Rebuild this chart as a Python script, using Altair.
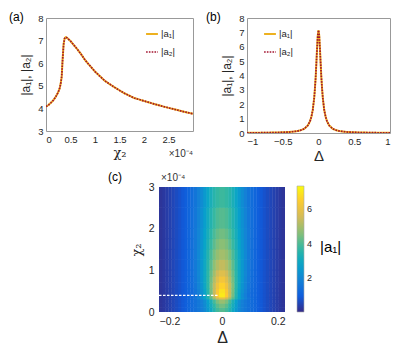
import altair as alt
import pandas as pd

F = "Liberation Sans"
YEL = "#EDB120"
RED = "#A2142F"
SER = ["|a₁|", "|a₂|"]

# ---------- panel (a): |a| vs chi2 (units of 1e-4)
chi2_a = [0, 0.05, 0.1, 0.15, 0.2, 0.25, 0.28, 0.3, 0.32, 0.34, 0.36, 0.38, 0.4, 0.42, 0.45,
          0.5, 0.6, 0.7, 0.8, 0.9, 1.0, 1.2, 1.4, 1.6, 1.8, 2.0, 2.2, 2.4, 2.6, 2.8, 3.0]
a1_a = [4.08, 4.15, 4.25, 4.36, 4.52, 4.72, 4.9, 5.1, 5.4, 6.2, 6.85, 7.1, 7.15, 7.14, 7.08,
        6.98, 6.72, 6.45, 6.13, 5.88, 5.63, 5.22, 4.93, 4.67, 4.46, 4.33, 4.2, 4.08, 3.97, 3.86, 3.76]
a2_a = list(a1_a)

# ---------- panel (b): |a| vs Delta
delta_b = [-1, -0.8, -0.6, -0.5, -0.4, -0.3, -0.25, -0.2, -0.15, -0.12, -0.1, -0.08, -0.06, -0.05,
           -0.04, -0.03, -0.02, -0.01, 0, 0.01, 0.02, 0.03, 0.04, 0.05, 0.06, 0.08, 0.1, 0.12,
           0.15, 0.2, 0.25, 0.3, 0.4, 0.5, 0.6, 0.8, 1]
a1_b = [0.01, 0.02, 0.03, 0.05, 0.07, 0.13, 0.19, 0.29, 0.52, 0.8, 1.12, 1.6, 2.45, 3.1,
        3.85, 4.85, 5.9, 6.8, 7.15, 6.8, 5.9, 4.85, 3.85, 3.1, 2.45, 1.6, 1.12, 0.8,
        0.52, 0.29, 0.19, 0.13, 0.07, 0.05, 0.03, 0.02, 0.01]
a2_b = list(a1_b)

# ---------- panel (c): heatmap |a1|(Delta, chi2)
d_half = [0.005, 0.015, 0.025, 0.035, 0.045, 0.055, 0.065, 0.075, 0.085, 0.095,
          0.105, 0.115, 0.125, 0.135, 0.145, 0.155, 0.165, 0.175, 0.185, 0.195]
row_edges = [0, 0.1, 0.2, 0.3, 0.35, 0.45, 0.55, 0.7, 0.85, 1.0, 1.25, 1.5, 1.75, 2.0, 2.5, 3.0]
# inner part of each row (|Delta| = 0.005 ... 0.095)
grid_inner = [
    [4.1, 3.9, 3.5, 3.0, 2.5, 2.1, 1.82, 1.62, 1.47, 1.34],
    [4.4, 4.15, 3.7, 3.15, 2.6, 2.15, 1.84, 1.63, 1.48, 1.35],
    [4.8, 4.5, 3.95, 3.3, 2.7, 2.2, 1.86, 1.64, 1.48, 1.35],
    [5.9, 5.5, 4.85, 4.1, 3.4, 2.8, 2.3, 1.92, 1.62, 1.4],
    [7.0, 6.4, 5.4, 4.4, 3.5, 2.75, 2.2, 1.8, 1.5, 1.3],
    [6.85, 6.3, 5.4, 4.45, 3.58, 2.85, 2.3, 1.88, 1.57, 1.33],
    [6.55, 6.1, 5.35, 4.5, 3.65, 2.95, 2.38, 1.95, 1.62, 1.37],
    [6.17, 5.8, 5.15, 4.4, 3.65, 3.0, 2.44, 2.0, 1.66, 1.4],
    [5.78, 5.48, 4.95, 4.3, 3.62, 3.0, 2.47, 2.03, 1.69, 1.42],
    [5.33, 5.1, 4.7, 4.15, 3.55, 2.98, 2.48, 2.05, 1.71, 1.44],
    [4.93, 4.76, 4.43, 3.97, 3.45, 2.94, 2.47, 2.06, 1.72, 1.45],
    [4.63, 4.48, 4.18, 3.78, 3.3, 2.83, 2.4, 2.02, 1.7, 1.45],
    [4.38, 4.25, 3.98, 3.62, 3.2, 2.76, 2.35, 1.98, 1.68, 1.44],
    [4.1, 3.99, 3.77, 3.45, 3.07, 2.67, 2.28, 1.93, 1.65, 1.42],
    [3.83, 3.74, 3.55, 3.25, 2.9, 2.52, 2.16, 1.85, 1.6, 1.4],
]
# outer part (|Delta| = 0.105 ... 0.195), same along chi2 in the picture
grid_tail = [1.22, 1.06, 0.92, 0.8, 0.69, 0.59, 0.5, 0.42, 0.34, 0.27]
cell_half = 0.0056      # slight overlap of neighbouring cells (no seams)
row_overlap = 0.015
dash_x = [-0.2, -0.012]
dash_y = [0.4, 0.4]

parula = ["#352a87", "#0f5cdd", "#1481d6", "#06a4ca", "#2eb7a4", "#87bf77", "#d1bb59", "#fec832", "#f9fb0e"]
cmin, cmax = 0.08, 7.3
cdomain = [cmin + k * (cmax - cmin) / 8 for k in range(9)]


def txt(s, x, y, size, align="left", baseline="top", font=F, color="black", style="normal"):
    return alt.Chart(pd.DataFrame({"t": [s]})).mark_text(
        fontSize=size, font=font, align=align, baseline=baseline, color=color, fontStyle=style
    ).encode(x=alt.value(x), y=alt.value(y), text="t:N")


def line_panel(xs, s1, s2, xdom, xvals, ydom, yvals, xtitle, xtfont, xtsize, legx, w, h):
    n = len(xs)
    df = pd.DataFrame({"x": list(xs) * 2, "amp": list(s1) + list(s2),
                       "series": [SER[0]] * n + [SER[1]] * n})
    leg = alt.Legend(title=None, orient="none", legendX=legx, legendY=9, symbolType="stroke",
                     symbolSize=140, labelFontSize=9.5, labelFont=F, rowPadding=6, padding=0,
                     labelOffset=2)
    return alt.Chart(df).mark_line(clip=True).encode(
        x=alt.X("x:Q", scale=alt.Scale(domain=xdom, nice=False, zero=False),
                axis=alt.Axis(values=xvals, format="~g", title=xtitle, titleFont=xtfont,
                              titleFontSize=xtsize, labelPadding=3, titlePadding=3)),
        y=alt.Y("amp:Q", scale=alt.Scale(domain=ydom, nice=False, zero=False),
                axis=alt.Axis(values=yvals, title="|a₁|, |a₂|", titleFontSize=12,
                              labelPadding=3, titlePadding=5)),
        color=alt.Color("series:N", scale=alt.Scale(domain=SER, range=[YEL, RED]), legend=leg),
        strokeDash=alt.StrokeDash("series:N", scale=alt.Scale(domain=SER, range=[[1, 0], [1.6, 1.2]]), legend=leg),
        strokeWidth=alt.StrokeWidth("series:N", scale=alt.Scale(domain=SER, range=[2.0, 1.7]), legend=leg),
    ).properties(width=w, height=h)


pa = line_panel(chi2_a, a1_a, a2_a, [0, 3], [0, 0.5, 1, 1.5, 2, 2.5], [3, 8], [3, 4, 5, 6, 7, 8],
                "χ₂", "DejaVu Serif", 13, 99, 147, 113)
panel_a = alt.layer(
    pa,
    txt("(a)", -37, -6, 12),
    txt("×10⁻⁴", 147, 136, 10, align="right", baseline="middle", color="#333"),
).properties(view=alt.ViewBackground(stroke="#999"))

pb = line_panel(delta_b, a1_b, a2_b, [-1, 1], [-1, -0.5, 0, 0.5, 1], [0, 8], list(range(9)),
                "Δ", F, 15, 16, 143, 115)
panel_b = alt.layer(
    pb,
    txt("(b)", -41, -6, 12),
).properties(view=alt.ViewBackground(stroke="#999"))

# heatmap table
recs = []
for r, inner in enumerate(grid_inner):
    for d, v in zip(d_half, inner + grid_tail):
        for sgn in (-1, 1):
            c = sgn * d
            recs.append({"x": c - cell_half, "x2": c + cell_half,
                         "y": row_edges[r], "y2": row_edges[r + 1] + row_overlap, "v": v})
hm = pd.DataFrame(recs)
cscale = alt.Scale(domain=cdomain, range=parula, interpolate="rgb")

heat = alt.Chart(hm).mark_rect(clip=True).encode(
    x=alt.X("x:Q", scale=alt.Scale(domain=[-0.2, 0.2], nice=False, zero=False),
            axis=alt.Axis(values=[-0.2, -0.1, 0, 0.1, 0.2], format="~g", title="Δ",
                          titleFontSize=16, labelFontSize=10.5, labelPadding=4, titlePadding=3)),
    x2="x2:Q",
    y=alt.Y("y:Q", scale=alt.Scale(domain=[0, 3], nice=False, zero=False),
            axis=alt.Axis(values=[0, 0.5, 1, 1.5, 2, 2.5, 3], format="~g", title="χ₂",
                          titleFont="DejaVu Serif", titleFontSize=13, labelFontSize=10.5,
                          labelPadding=5, titlePadding=5)),
    y2="y2:Q",
    color=alt.Color("v:Q", scale=cscale,
                    legend=alt.Legend(type="gradient", title=None, values=[2, 4, 6],
                                      gradientLength=126, gradientThickness=7,
                                      labelFontSize=9, labelFont=F,
                                      orient="none", legendX=138, legendY=-1,
                                      gradientStrokeColor="#aaa",
                                      gradientStrokeWidth=0.6, labelOffset=3,
                                      direction="vertical", padding=0)),
)
dash_df = pd.DataFrame({"x": dash_x, "y": dash_y})
dash = alt.Chart(dash_df).mark_line(color="white", strokeDash=[2.5, 1.5], strokeWidth=1.4).encode(
    x="x:Q", y="y:Q")

panel_c = alt.layer(
    heat, dash,
    txt("(c)", -51, -15, 12),
    txt("×10⁻⁴", 2, -9, 10, baseline="middle", color="#333"),
    txt("|a₁|", 161, 60, 15, baseline="middle"),
).properties(width=126, height=125)

spacer = alt.Chart(pd.DataFrame({"x": [0]})).mark_point(opacity=0).encode(
    x=alt.X("x:Q", axis=None), y=alt.Y("x:Q", axis=None)).properties(width=1, height=125)

RES = dict(color="independent", strokeDash="independent", strokeWidth="independent")

top = alt.hconcat(panel_a, panel_b, spacing=54, bounds="flush").resolve_scale(**RES).resolve_legend(**RES)
bottom = alt.hconcat(spacer, panel_c, spacing=112, bounds="flush").resolve_scale(**RES).resolve_legend(**RES)
chart = alt.vconcat(top, bottom, spacing=7).resolve_scale(**RES).resolve_legend(**RES).properties(
    padding={"left": 0, "top": 2, "right": 4, "bottom": 0}
).configure_view(stroke=None).configure_axis(
    labelFont=F, titleFont=F, labelFontSize=9.5, labelColor="#262626", titleColor="#262626",
    ticks=False, grid=False, domain=False, titleFontWeight="normal"
).configure_legend(labelColor="#262626")

chart.save("out.html", embed_options={"renderer": "svg", "actions": False})
